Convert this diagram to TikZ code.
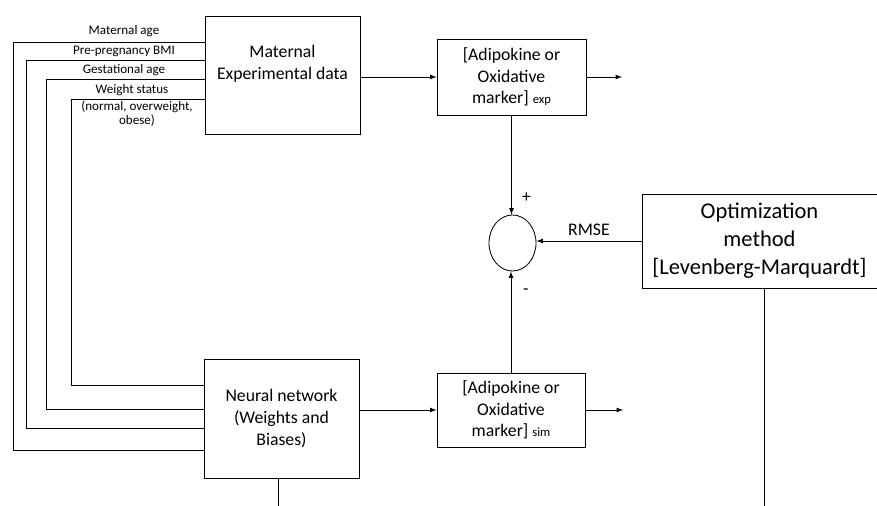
\documentclass[tikz,border=0pt]{standalone}
\usepackage{fontspec}
\setmainfont{Carlito}
\usetikzlibrary{shapes.geometric}

\begin{document}
\begin{tikzpicture}[x=0.025cm, y=-0.025cm, line width=0.6pt, >=latex,
  block/.style={rectangle, draw, align=center, font=\fontsize{12.6}{15.5}\selectfont},
  small/.style={font=\fontsize{9.3}{9.8}\selectfont, inner sep=1pt, align=center},
  sum/.style={ellipse, draw, minimum width=1.175cm, minimum height=1.4cm, inner sep=0pt}]
  \useasboundingbox (0,0) rectangle (877,506);
  \node[block, minimum width=3.875cm, minimum height=2.95cm] (mat) at (282.5,75) {};
  \node[align=center, font=\fontsize{12.6}{15.5}\selectfont] (matlbl) at (282.5,64) {Maternal\\Experimental data};
  \node[block, minimum width=3.875cm, minimum height=2.975cm] (nn) at (281.5,418.5) {Neural network\\(Weights and\\Biases)};
  \node[block, minimum width=3.725cm, minimum height=1.9cm] (exp) at (511.5,77) {[Adipokine or\\Oxidative\\marker] {\fontsize{9}{9}\selectfont exp}};
  \node[block, minimum width=3.7cm, minimum height=1.85cm] (sim) at (511,410) {[Adipokine or\\Oxidative\\marker] {\fontsize{9}{9}\selectfont sim}};
  \node[sum] (sum) at (512.5,243) {};
  \node[block, minimum width=5.875cm, minimum height=2.35cm, font=\fontsize{16}{20}\selectfont] (opt) at (759.5,241) {Optimization\\method\\{}[Levenberg-Marquardt]};
  \coordinate (expout) at (622,77);
  \coordinate (simout) at (623,410);
  \coordinate (nnend) at (278,506);
  \coordinate (optend) at (764,506);

  \node[small] (agelbl) at (124,31) {Maternal age};
  \node[small] (bmilbl) at (124,51) {Pre-pregnancy BMI};
  \node[small] (gestlbl) at (124,70) {Gestational age};
  \node[small] (wslbl) at (132,90.5) {Weight status};
  \node[small] (wsnote) at (137,113.5) {(normal, overweight,\\obese)};

  \foreach \xa/\ya/\yb in {13/42/450, 26/60/428, 46/79/409, 71/99/385} {
    \coordinate (top) at (\xa,\ya);
    \coordinate (bot) at (\xa,\yb);
    \draw (mat.west |- top) -- (top) -- (bot) -- (nn.west |- bot);
  }

  \draw[->] (exp.west -| mat.east) -- (exp.west);
  \draw[->] (exp.east) -- (expout);
  \draw[->] (sim.west -| nn.east) -- (sim.west);
  \draw[->] (sim.east) -- (simout);
  \draw[->] (exp.south) -- (exp.south |- sum.north) node[pos=0.83, right, xshift=4pt, font=\fontsize{12.6}{14}\selectfont] (plus) {+};
  \draw[->] (sim.north) -- (sim.north |- sum.south) node[pos=0.8, right, xshift=5pt, font=\fontsize{12.6}{14}\selectfont] (minus) {-};
  \draw[->] (opt.west) -- (opt.west -| sum.east) node[midway, above, font=\fontsize{12.6}{14}\selectfont] (rmse) {RMSE};
  \draw (opt.south -| optend) -- (optend);
  \draw (nn.south -| nnend) -- (nnend);
\end{tikzpicture}
\end{document}
